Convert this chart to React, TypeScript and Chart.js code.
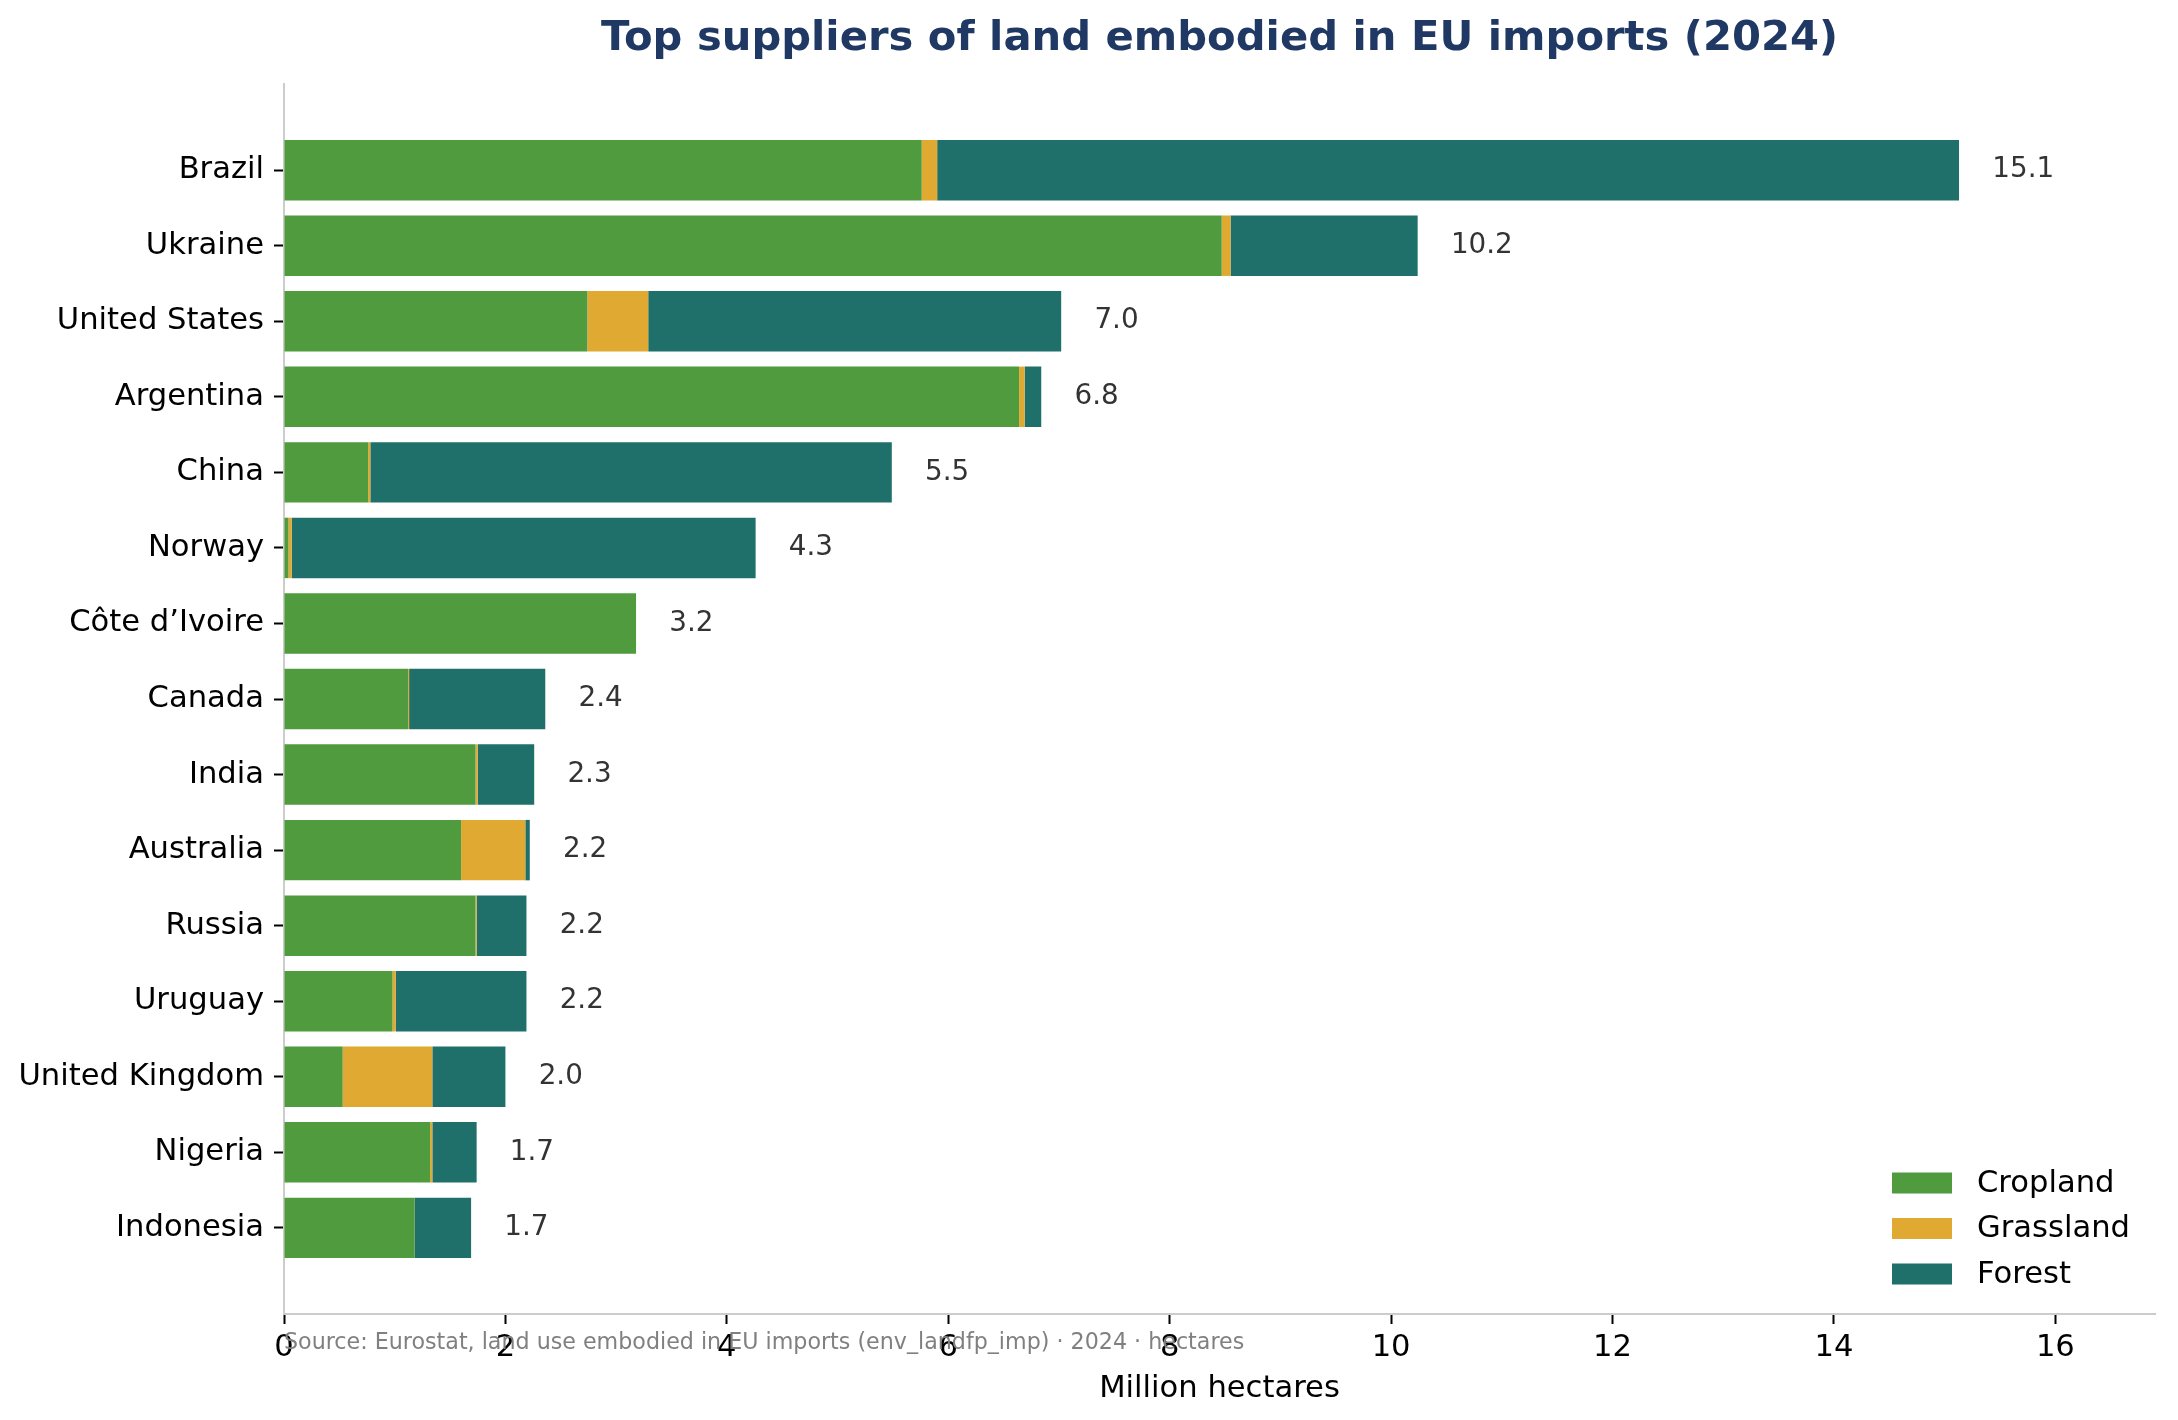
import React, { useEffect, useRef } from "react";
import { Chart, registerables } from "chart.js";

Chart.register(...registerables);

const categories = [
  "Brazil",
  "Ukraine",
  "United States",
  "Argentina",
  "China",
  "Norway",
  "Côte d’Ivoire",
  "Canada",
  "India",
  "Australia",
  "Russia",
  "Uruguay",
  "United Kingdom",
  "Nigeria",
  "Indonesia",
];

const cropland = [5.76, 8.47, 2.74, 6.64, 0.76, 0.04, 3.18, 1.12, 1.73, 1.6, 1.73, 0.98, 0.53, 1.32, 1.18];
const grassland = [0.14, 0.08, 0.55, 0.05, 0.02, 0.03, 0.0, 0.01, 0.02, 0.58, 0.01, 0.03, 0.81, 0.02, 0.0];
const forest = [9.23, 1.69, 3.73, 0.15, 4.71, 4.19, 0.0, 1.23, 0.51, 0.04, 0.45, 1.18, 0.66, 0.4, 0.51];

const seriesNames = ["Cropland", "Grassland", "Forest"];
const seriesColors = ["#4f9b3d", "#e0a931", "#1f706b"];
const xTicks = [0, 2, 4, 6, 8, 10, 12, 14, 16];

const TITLE = "Top suppliers of land embodied in EU imports (2024)";
const SOURCE = "Source: Eurostat, land use embodied in EU imports (env_landfp_imp) · 2024 · hectares";
const X_TITLE = "Million hectares";

const FONT = "'DejaVu Sans', sans-serif";

export default function App() {
  const ref = useRef<HTMLCanvasElement | null>(null);

  useEffect(() => {
    document.body.style.margin = "0";
    const canvas = ref.current;
    if (!canvas) return;

    const seriesValues = [cropland, grassland, forest];
    const datasets = seriesNames.map((name, s) => ({
      label: name,
      data: categories.map((_, i) => ({ x: seriesValues[s][i], y: i })),
      backgroundColor: seriesColors[s],
      borderWidth: 0,
      barPercentage: 0.8,
      categoryPercentage: 1.0,
    }));

    const valueLabels = {
      id: "valueLabels",
      afterDatasetsDraw(chart: any) {
        const ctx = chart.ctx;
        const xs = chart.scales.x;
        const ys = chart.scales.y;
        ctx.save();
        ctx.font = `27.8px ${FONT}`;
        ctx.fillStyle = "#333333";
        ctx.textAlign = "left";
        ctx.textBaseline = "middle";
        categories.forEach((_, i) => {
          const total = cropland[i] + grassland[i] + forest[i];
          const x = xs.getPixelForValue(total + 0.3);
          const y = ys.getPixelForValue(i);
          ctx.fillText(total.toFixed(1), x, y);
        });
        ctx.restore();
      },
    };

    const extras = {
      id: "extras",
      afterDraw(chart: any) {
        const ctx = chart.ctx;
        const area = chart.chartArea;
        ctx.save();
        // legend
        ctx.font = `30.6px ${FONT}`;
        ctx.textBaseline = "middle";
        ctx.textAlign = "left";
        const legendX = area.right - 263;
        const legendY = area.bottom - 131;
        seriesNames.forEach((name, s) => {
          const cy = legendY + s * 45.5;
          ctx.fillStyle = seriesColors[s];
          ctx.fillRect(legendX, cy - 10.5, 60, 21);
          ctx.fillStyle = "#000000";
          ctx.fillText(name, legendX + 85, cy + 1);
        });
        // source note
        ctx.font = `22.2px ${FONT}`;
        ctx.fillStyle = "#808080";
        ctx.fillText(SOURCE, area.left, area.bottom + 29);
        ctx.restore();
      },
    };

    const chart = new Chart(canvas, {
      type: "bar",
      data: { datasets: datasets as any },
      plugins: [valueLabels, extras],
      options: {
        indexAxis: "y",
        animation: false,
        responsive: false,
        devicePixelRatio: 1,
        layout: { padding: { left: 0, right: 23, top: 0, bottom: 0 } },
        plugins: {
          legend: { display: false },
          tooltip: { enabled: false },
          title: {
            display: true,
            text: TITLE,
            fullSize: false,
            color: "#1f3864",
            font: { family: FONT, size: 41.7, weight: "bold" },
            padding: { top: 14, bottom: 20 },
          },
        },
        scales: {
          x: {
            type: "linear",
            stacked: true,
            min: 0,
            max: 16.9,
            afterBuildTicks(scale: any) {
              scale.ticks = xTicks.map((v) => ({ value: v }));
            },
            afterFit(scale: any) {
              scale.height = 106;
            },
            grid: {
              display: true,
              drawOnChartArea: false,
              drawTicks: true,
              tickLength: 10,
              tickColor: "#000000",
              tickWidth: 2,
            },
            border: { display: true, color: "#cccccc", width: 2 },
            ticks: {
              color: "#000000",
              font: { family: FONT, size: 30.6 },
              padding: 6,
              maxRotation: 0,
            },
            title: {
              display: true,
              text: X_TITLE,
              color: "#000000",
              font: { family: FONT, size: 30.6 },
              padding: { top: 0, bottom: 13 },
            },
          },
          y: {
            type: "linear",
            stacked: true,
            reverse: true,
            offset: false,
            min: -1.14,
            max: 15.14,
            afterBuildTicks(scale: any) {
              scale.ticks = categories.map((_, i) => ({ value: i }));
            },
            afterFit(scale: any) {
              scale.width = 284;
            },
            grid: {
              display: true,
              offset: false,
              drawOnChartArea: false,
              drawTicks: true,
              tickLength: 10,
              tickColor: "#000000",
              tickWidth: 2,
            },
            border: { display: true, color: "#cccccc", width: 2 },
            ticks: {
              color: "#000000",
              font: { family: FONT, size: 30.6 },
              padding: 10,
              autoSkip: false,
              callback: (value: any) => categories[value as number] ?? "",
            },
          },
        },
      } as any,
    });

    return () => chart.destroy();
  }, []);

  return (
    <div style={{ width: 2178, height: 1420 }}>
      <canvas ref={ref} width={2178} height={1420} style={{ display: "block" }} />
    </div>
  );
}
